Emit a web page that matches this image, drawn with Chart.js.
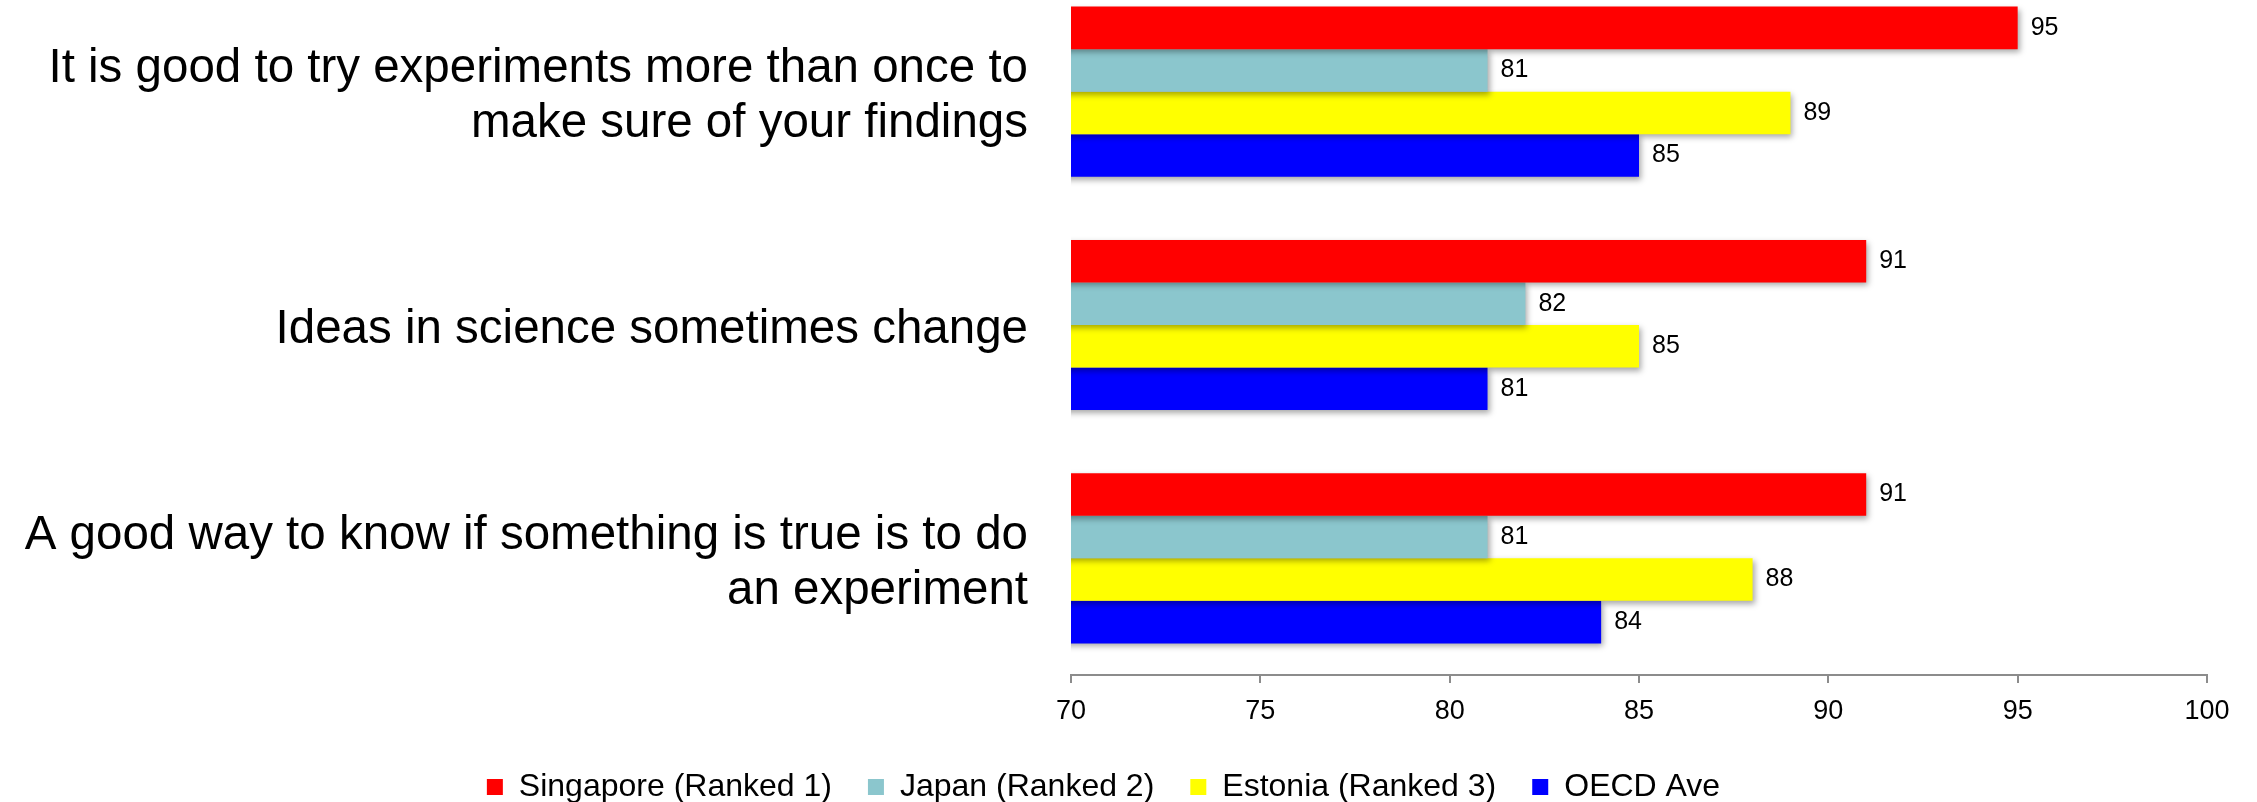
<!DOCTYPE html>
<html>
<head>
<meta charset="utf-8">
<script src="https://cdn.jsdelivr.net/npm/chart.js@4/dist/chart.umd.min.js"></script>
<style>
  html, body { margin: 0; padding: 0; background: #ffffff; overflow: hidden; }
  #wrap { position: absolute; left: 0; top: -25px; width: 2257px; height: 838px; }
</style>
</head>
<body>
<div id="wrap"><canvas id="chart" width="2257" height="838"></canvas></div>
<script>
// Survey statements (category axis)
const statements = [
  ['It is good to try experiments more than once to', 'make sure of your findings'],
  'Ideas in science sometimes change',
  ['A good way to know if something is true is to do', 'an experiment']
];

// Percentage of students agreeing, per country
const singapore = [95, 91, 91];
const japan     = [81, 82, 81];
const estonia   = [89, 85, 88];
const oecdAve   = [85, 81, 84];

const seriesNames = ['Singapore (Ranked 1)', 'Japan (Ranked 2)', 'Estonia (Ranked 3)', 'OECD Ave'];
const seriesColors = ['#ff0000', '#8bc6cd', '#ffff00', '#0000ff'];

// Value axis ticks
const xTicks = [70, 75, 80, 85, 90, 95, 100];

const FONT = "'Liberation Sans', Arial, Helvetica, sans-serif";

// Soft drop shadow beneath the bars
const barShadow = {
  id: 'barShadow',
  beforeDatasetsDraw(chart) {
    const ctx = chart.ctx;
    ctx.save();
    ctx.shadowColor = 'rgba(0,0,0,0.35)';
    ctx.shadowBlur = 6;
    ctx.shadowOffsetX = 2;
    ctx.shadowOffsetY = 3;
  },
  afterDatasetsDraw(chart) {
    chart.ctx.restore();
  }
};

// Value labels at the end of each bar
const valueLabels = {
  id: 'valueLabels',
  afterDraw(chart) {
    const ctx = chart.ctx;
    ctx.save();
    ctx.font = '25px ' + FONT;
    ctx.fillStyle = '#000000';
    ctx.textAlign = 'left';
    ctx.textBaseline = 'middle';
    chart.data.datasets.forEach((ds, i) => {
      const meta = chart.getDatasetMeta(i);
      meta.data.forEach((bar, j) => {
        ctx.fillText(String(ds.data[j]), bar.x + 13, bar.y);
      });
    });
    ctx.restore();
  }
};

const values = [singapore, japan, estonia, oecdAve];

new Chart(document.getElementById('chart'), {
  type: 'bar',
  data: {
    labels: statements,
    datasets: seriesNames.map((name, i) => ({
      label: name,
      data: values[i],
      backgroundColor: seriesColors[i],
      borderWidth: 0,
      categoryPercentage: 0.729,
      barPercentage: 1.0
    }))
  },
  options: {
    indexAxis: 'y',
    responsive: false,
    animation: false,
    devicePixelRatio: 1,
    layout: { padding: { left: 0, right: 50, top: 0, bottom: 0 } },
    scales: {
      x: {
        min: 70,
        max: 100,
        afterBuildTicks(scale) { scale.ticks = xTicks.map(v => ({ value: v })); },
        afterFit(scale) { scale.height = 60; },
        border: { display: true, color: '#8c8c8c', width: 2 },
        grid: {
          drawOnChartArea: false,
          drawTicks: true,
          tickLength: 8,
          color: '#8c8c8c',
          lineWidth: 2
        },
        ticks: {
          color: '#000000',
          padding: 12,
          font: { family: FONT, size: 27 }
        }
      },
      y: {
        afterFit(scale) {
          scale.width = 1071;
          scale.paddingTop = 0;
          scale.paddingBottom = 0;
        },
        border: { display: false },
        grid: { display: false, drawTicks: false },
        ticks: {
          color: '#000000',
          padding: 43,
          labelOffset: 5,
          font: { family: FONT, size: 47.5, lineHeight: 1.16 }
        }
      }
    },
    plugins: {
      legend: {
        position: 'bottom',
        labels: {
          boxWidth: 16,
          boxHeight: 16,
          padding: 36,
          color: '#000000',
          font: { family: FONT, size: 32 }
        }
      },
      tooltip: { enabled: false }
    }
  },
  plugins: [barShadow, valueLabels]
});
</script>
</body>
</html>
